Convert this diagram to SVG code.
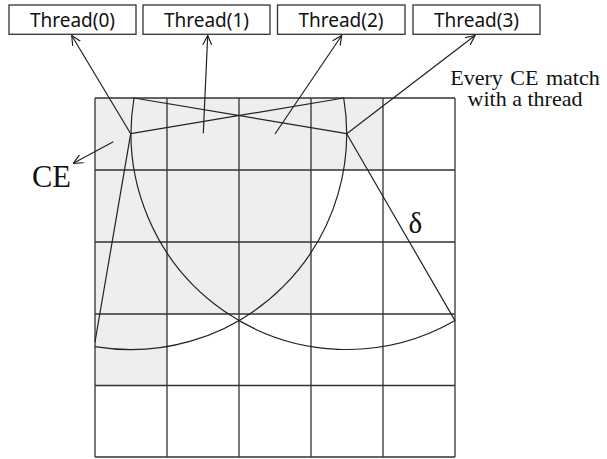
<svg xmlns="http://www.w3.org/2000/svg" width="607" height="459" viewBox="0 0 607 459">
<defs>
<marker id="arr" viewBox="0 0 10 10" refX="9.5" refY="5" markerWidth="10" markerHeight="10" markerUnits="userSpaceOnUse" orient="auto">
<path d="M0,0.5 L9.5,5 L0,9.5" fill="none" stroke="#222" stroke-width="1.2"/>
</marker>
<style>
.box{fill:#fff;stroke:#333;stroke-width:1.3}
.lbl{font-family:"Noto Sans","Open Sans",sans-serif;font-size:19px;fill:#111;text-anchor:middle}
.grid{fill:none;stroke:#333;stroke-width:1.3}
.ln{fill:none;stroke:#222;stroke-width:1.2}
.ser{font-family:"Liberation Serif","Times New Roman",serif;fill:#111}
</style>
</defs>
<rect width="607" height="459" fill="#fff"/>
<g id="thread0"><rect class="box" x="9" y="5" width="127" height="29.3"/><text class="lbl" x="72.5" y="27">Thread(0)</text></g>
<g id="thread1"><rect class="box" x="143" y="5" width="127" height="29.3"/><text class="lbl" x="206.5" y="27">Thread(1)</text></g>
<g id="thread2"><rect class="box" x="277.5" y="5" width="127.5" height="29.3"/><text class="lbl" x="341" y="27">Thread(2)</text></g>
<g id="thread3"><rect class="box" x="413" y="5" width="127" height="29.3"/><text class="lbl" x="476.5" y="27">Thread(3)</text></g>
<g id="grid">
<path d="M95,98 H383 V170 H311 V314 H167 V385.5 H95 Z" fill="#eeeeee"/>
<path class="grid" d="M95,98 H455 M95,170 H455 M95,242 H455 M95,314 H455 M95,385.5 H455 M95,457 H455 M95,98 V457 M167,98 V457 M239,98 V457 M311,98 V457 M383,98 V457 M455,98 V457"/>
</g>
<g id="geometry">
<path class="ln" d="M95,346.7 A216,216 0 0 0 343.7,98"/>
<path class="ln" d="M134,98 A216,216 0 0 0 455,320.6"/>
<path class="ln" d="M130.7,133.7 L343.7,98 M346.7,133.7 L134,98 M130.7,133.7 L95,342 M346.7,133.7 L455,320.6"/>
</g>
<g id="connectors">
<line class="ln" x1="130.7" y1="133.7" x2="71.7" y2="35.5" marker-end="url(#arr)"/>
<line class="ln" x1="203.3" y1="133.3" x2="207.7" y2="35.5" marker-end="url(#arr)"/>
<line class="ln" x1="275" y1="134" x2="341.7" y2="35.5" marker-end="url(#arr)"/>
<line class="ln" x1="346.7" y1="133.7" x2="475" y2="35.5" marker-end="url(#arr)"/>
<line class="ln" x1="113.3" y1="141.7" x2="73.3" y2="163.3" marker-end="url(#arr)"/>
</g>
<g id="labels">
<text class="ser" x="51.5" y="186.7" font-size="30.5" text-anchor="middle">CE</text>
<text class="ser" x="415.3" y="232.5" font-size="29" text-anchor="middle">δ</text>
<text class="ser" x="525" y="85" font-size="22" text-anchor="middle" word-spacing="2">Every CE match</text>
<text class="ser" x="525" y="105.5" font-size="22" text-anchor="middle">with a thread</text>
</g>
</svg>
